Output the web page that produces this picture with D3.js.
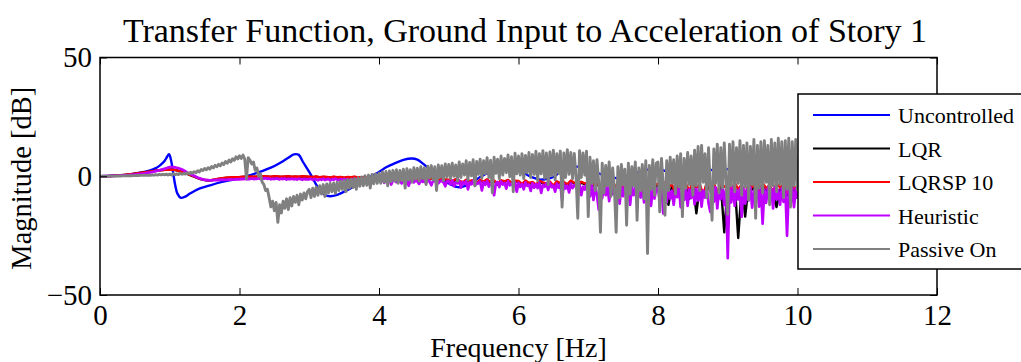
<!DOCTYPE html>
<html><head><meta charset="utf-8">
<script src="https://cdn.jsdelivr.net/npm/d3@7"></script>
<style>
html,body{margin:0;padding:0;background:#fff;}
svg{display:block;font-family:"Liberation Serif","Times New Roman",serif;}
</style></head><body>
<svg id="chart" width="1021" height="362"></svg>
<script>
const titleText = "Transfer Function, Ground Input to Acceleration of Story 1";
const xLabel = "Frequency [Hz]";
const yLabel = "Magnitude [dB]";
const xTicks = [0, 2, 4, 6, 8, 10, 12];
const yTicks = [-50, 0, 50];
const seriesNames = ["Uncontrolled", "LQR", "LQRSP 10", "Heuristic", "Passive On"];
const seriesColors = ["#0000ff", "#000000", "#ff0000", "#bf00ff", "#808080"];
const freqMax = 10; // uniformly sampled series run from 0 to 10 Hz

// Uncontrolled: smooth resonant response (freq, dB)
const uncontrolledFreq = [0,0.2,0.4,0.5,0.6,0.72,0.8,0.86,0.92,0.96,0.99,1.02,1.05,1.08,1.11,1.16,1.22,1.29,1.4,1.58,1.75,1.91,2.1,2.29,2.45,2.58,2.7,2.78,2.85,2.91,3.01,3.08,3.15,3.22,3.3,3.4,3.5,3.63,3.75,3.87,4.0,4.11,4.23,4.35,4.47,4.55,4.63,4.73,4.83,4.93,5.02,5.13,5.26,5.37,5.45,5.6,5.75,5.9,6.0,6.09,6.2,6.31,6.42,6.5,6.64,6.8,6.95,7.1,7.25,7.41,7.6,7.8,8.0,8.2,8.4,8.6,8.8,9.0,9.2,9.4,9.6,9.8,10.0];
const uncontrolledDb = [0,0.2,0.6,1.1,1.6,2.5,3.4,4.6,6.2,8.1,9.3,6.5,1.1,-4.0,-7.3,-9.1,-8.6,-7.3,-5.5,-3.8,-2.4,-1.4,0.0,1.8,3.6,5.6,7.8,9.2,9.0,6.0,1.3,-2.5,-5.9,-7.8,-8.4,-7.8,-6.5,-4.5,-2.4,-0.3,1.8,3.9,5.5,6.9,7.5,7.0,5.3,2.9,0.4,-1.8,-3.3,-4.6,-3.8,-2.0,-0.3,1.8,3.0,2.8,2.2,1.1,-0.5,-1.4,-1.0,-0.3,2.5,4.0,3.5,1.8,0.2,-0.8,0.5,2.5,3.0,1.5,2.0,3.5,2.5,3.0,4.0,3.0,4.5,3.5,4.0];

// LQR, 0..10 Hz every 0.05 Hz
const lqrDb = [
0,0.02,0.06,0.12,0.2,0.3,0.42,0.56,0.72,0.9, 1.1,1.3,1.5,1.7,1.9,2.1,2.3,2.5,2.65,2.8,
2.9,2.8,2.5,2.0,1.5,1.0,0.4,-0.2,-0.8,-1.3, -1.6,-1.8,-1.7,-1.4,-1.1,-0.9,-0.7,-0.6,-0.5,-0.45,
-0.4,-0.3,-0.4,-0.2,-0.3,-0.2,-0.3,-0.1,-0.2,-0.3, -0.1,-0.2,-0.3,-0.2,-0.1,-0.3,-0.2,-0.3,-0.1,-0.2,
-0.3,-0.4,-0.2,-0.5,-0.3,-0.4,-0.6,-0.3,-0.5,-0.4, -0.7,-0.4,-0.5,-0.3,-0.6,-0.5,-0.4,-0.7,-0.5,-0.6,
-0.6,-0.9,-0.5,-1.0,-0.7,-1.2,-0.6,-1.3,-0.8,-1.0, -0.7,-1.5,-0.9,-1.1,-1.6,-1.0,-1.2,-1.7,-1.1,-1.5,
-1.7,-2.5,-1.4,-2.0,-3.0,-1.6,-2.3,-1.8,-3.2,-1.7, -2.5,-1.5,-2.8,-2.0,-3.5,-1.9,-2.4,-1.7,-3.0,-2.1,
-2.3,-3.6,-2.0,-3.2,-2.7,-4.2,-2.1,-3.0,-3.5,-2.5, -4.6,-2.4,-3.3,-2.7,-3.9,-2.1,-3.1,-4.4,-2.6,-3.4,
-3.2,-4.8,-2.8,-4.0,-5.5,-3.3,-3.9,-2.9,-5.2,-3.4, -6.0,-3.1,-4.3,-3.6,-5.3,-3.0,-4.0,-5.8,-3.5,-4.6,
-3.5,-7.5,-3.0,-12.0,-4.0,-8.0,-3.2,-6.0,-3.7,-9.5, -2.9,-15.6,-4.1,-8.5,-3.1,-6.2,-3.4,-10.0,-3.2,-23.6,
-3.6,-7.0,-3.0,-26.0,-4.0,-17.0,-3.3,-5.6,-3.7,-8.2, -3.1,-6.0,-4.3,-7.5,-13.0,-5.8,-3.9,-8.0,-3.4,-6.4, -4.5];

// LQRSP 10, 0..10 Hz every 0.05 Hz
const lqrsp10Db = [
0,0.02,0.06,0.12,0.2,0.3,0.42,0.56,0.72,0.9, 1.1,1.3,1.5,1.7,1.9,2.1,2.3,2.5,2.65,2.75,
2.8,2.75,2.5,2.1,1.6,1.1,0.5,-0.1,-0.7,-1.2, -1.5,-1.7,-1.6,-1.3,-1.0,-0.8,-0.6,-0.5,-0.4,-0.35,
-0.3,-0.2,-0.3,-0.1,-0.2,-0.1,-0.2,0.0,-0.1,-0.2, 0.0,-0.1,-0.2,-0.1,0.0,-0.2,-0.1,-0.2,0.0,-0.1,
-0.2,-0.3,-0.1,-0.4,-0.2,-0.3,-0.5,-0.2,-0.4,-0.3, -0.6,-0.3,-0.4,-0.2,-0.5,-0.4,-0.3,-0.6,-0.4,-0.5,
-0.5,-0.8,-0.4,-0.9,-0.6,-1.0,-0.5,-1.2,-0.7,-0.9, -0.6,-1.3,-0.8,-1.0,-1.4,-0.9,-1.1,-1.5,-1.0,-1.3,
-1.5,-2.2,-1.2,-1.8,-2.6,-1.4,-2.0,-1.6,-2.8,-1.5, -2.2,-1.3,-2.5,-1.8,-3.0,-1.7,-2.1,-1.5,-2.7,-1.9,
-2.0,-3.2,-1.8,-2.8,-2.4,-3.6,-1.9,-2.6,-3.0,-2.2, -4.0,-2.1,-2.9,-2.4,-3.4,-1.8,-2.7,-3.8,-2.3,-3.0,
-2.8,-4.2,-2.5,-3.6,-4.8,-2.9,-3.4,-2.6,-4.5,-3.0, -5.2,-2.8,-3.8,-3.2,-4.6,-2.7,-3.5,-5.0,-3.1,-4.0,
-3.0,-6.5,-2.6,-4.5,-3.5,-7.0,-2.8,-5.0,-3.2,-6.0, -2.5,-4.8,-3.6,-7.5,-2.7,-5.2,-3.0,-6.8,-2.8,-4.4,
-3.2,-6.0,-2.6,-5.5,-3.5,-8.0,-2.9,-4.6,-3.3,-7.2, -2.7,-5.0,-3.8,-6.5,-2.8,-4.8,-3.4,-7.0,-3.0,-5.4, -4.0];

// Heuristic, 0..10 Hz every 0.025 Hz
const heuristicDb = [
0,0.01,0.02,0.04,0.06,0.08,0.1,0.13,0.16,0.19, 0.22,0.26,0.3,0.34,0.38,0.43,0.48,0.53,0.59,0.65,
0.72,0.8,0.88,0.97,1.06,1.16,1.27,1.39,1.52,1.66, 1.81,1.97,2.14,2.32,2.5,2.7,2.9,3.15,3.4,3.65,
3.85,3.9,3.85,3.75,3.6,3.4,3.15,2.85,2.5,2.1, 1.6,1.25,0.9,0.55,0.2,-0.15,-0.5,-0.8,-1.1,-1.3,
-1.5,-1.6,-1.65,-1.7,-1.7,-1.6,-1.65,-1.5,-1.6,-1.45, -1.55,-1.4,-1.5,-1.35,-1.45,-1.3,-1.4,-1.25,-1.35,-1.2,
-1.3,-1.1,-1.2,-1.0,-1.3,-1.1,-1.2,-0.9,-1.2,-1.0, -1.1,-0.8,-1.2,-0.9,-1.0,-0.8,-1.1,-0.9,-1.3,-1.0,
-1.2,-0.9,-1.1,-1.3,-1.0,-1.2,-0.9,-1.4,-1.1,-1.2, -1.0,-1.3,-1.1,-1.4,-1.0,-1.2,-1.5,-1.1,-1.3,-1.2,
-1.3,-1.0,-1.5,-1.1,-1.4,-1.7,-1.2,-1.5,-1.0,-1.6, -1.3,-1.1,-1.8,-1.2,-1.5,-1.0,-1.4,-1.7,-1.2,-1.5,
-1.1,-1.6,-1.3,-2.0,-1.2,-1.5,-1.0,-1.7,-1.3,-1.5, -1.2,-1.9,-1.4,-1.1,-1.6,-1.3,-2.2,-1.4,-1.2,-1.7,
-1.5,-2.2,-1.3,-2.8,-1.6,-2.0,-1.2,-3.5,-1.8,-1.5, -2.5,-1.4,-2.0,-3.0,-1.6,-2.2,-1.3,-4.0,-1.9,-1.5,
-2.6,-1.7,-2.2,-3.2,-1.6,-2.4,-1.8,-2.9,-1.5,-2.3, -3.8,-1.9,-2.1,-1.6,-3.0,-2.2,-1.8,-2.6,-4.2,-2.0,
-2.0,-3.5,-1.8,-4.2,-2.5,-3.0,-1.9,-4.8,-2.4,-3.2, -2.0,-5.5,-2.6,-3.4,-1.8,-4.0,-2.8,-3.0,-2.2,-6.0,
-2.5,-3.6,-2.0,-4.4,-3.0,-2.3,-8.0,-3.1,-2.4,-4.6, -2.2,-3.5,-2.8,-5.2,-2.1,-3.8,-3.0,-4.2,-2.5,-6.5,
-2.8,-4.5,-3.2,-5.5,-2.6,-4.0,-3.5,-6.2,-2.9,-4.8, -3.3,-5.0,-2.7,-7.0,-3.6,-4.4,-3.0,-5.8,-2.8,-4.6,
-3.9,-6.5,-3.1,-4.8,-3.4,-10.0,-3.2,-5.2,-4.0,-6.8, -3.0,-5.0,-3.8,-4.2,-6.0,-3.5,-8.0,-4.4,-5.6,-3.6,
-4.0,-8.5,-3.6,-10.0,-4.4,-7.8,-14.0,-4.2,-9.2,-3.8, -8.0,-4.5,-10.5,-3.9,-7.6,-4.8,-9.8,-4.1,-11.5,-4.6,
-8.4,-3.7,-9.5,-4.9,-12.0,-4.3,-8.0,-5.0,-10.2,-4.4, -9.0,-4.6,-11.0,-5.2,-8.6,-4.5,-12.5,-5.0,-9.4,-5.3,
-5.0,-10.5,-4.6,-15.6,-5.5,-11.0,-4.8,-9.5,-6.0,-12.0, -5.2,-8.8,-4.5,-13.0,-5.8,-10.0,-4.9,-12.5,-5.5,-9.2,
-4.6,-11.8,-5.3,-10.2,-4.4,-12.8,-6.0,-9.0,-5.0,-11.5, -15.0,-5.4,-10.8,-4.7,-13.5,-5.6,-9.6,-4.8,-12.2,-5.2,
-34.5,-5.0,-11.0,-4.6,-12.5,-5.8,-9.8,-5.2,-17.0,-4.9, -11.5,-5.5,-10.2,-4.7,-13.2,-6.0,-9.5,-5.1,-12.8,-4.8,
-20.0,-5.6,-11.2,-4.9,-10.0,-5.3,-13.5,-4.6,-9.8,-5.7, -12.0,-5.0,-10.8,-4.8,-25.0,-5.5,-11.6,-4.9,-13.0,-5.2, -9.5];

// Passive On, 0..10 Hz every 0.025 Hz
const passiveOnDb = [
0,0,0.01,0.02,0.03,0.04,0.05,0.06,0.07,0.08, 0.09,0.1,0.12,0.14,0.16,0.18,0.2,0.22,0.24,0.26,
0.28,0.3,0.32,0.35,0.38,0.4,0.45,0.35,0.5,0.4, 0.6,0.45,0.7,0.5,0.75,0.55,0.8,0.6,0.9,0.5,
0.9,0.5,1.1,0.6,1.0,0.7,1.3,0.8,1.2,0.9, 1.5,1.0,1.7,1.3,1.9,1.5,2.3,1.8,2.8,2.4,
3.3,2.7,3.6,3.0,4.1,3.5,4.6,4.0,5.0,4.4, 5.6,4.9,6.2,5.5,6.8,6.0,7.4,6.7,8.2,7.3,
8.6,7.5,8.9,7.2,-1.0,7.8,6.8,5.2,6.0,2.5, 3.5,0.0,1.0,-2.5,-3.5,-6.0,-5.5,-9.0,-12.9,-10.5,
-14.5,-11.0,-19.4,-12.0,-15.5,-10.5,-13.5,-9.5,-14.0,-9.0, -12.5,-8.5,-11.0,-8.0,-12.0,-7.5,-10.0,-7.0,-9.5,-6.5,
-5.5,-9.0,-5.0,-8.5,-4.5,-8.0,-4.0,-7.5,-3.5,-8.5, -3.2,-7.0,-3.0,-6.5,-2.8,-7.2,-2.5,-6.0,-2.2,-5.5,
-1.8,-6.5,-1.5,-5.0,-1.2,-4.8,-1.0,-5.5,-0.6,-4.2, -0.3,-4.0,0.2,-3.8,0.5,-5.0,0.8,-3.2,1.0,-3.0,
1.3,-3.0,1.8,-2.5,2.0,-4.0,2.2,-2.2,2.5,-2.0, 2.8,-3.0,2.4,-1.8,3.0,-5.0,3.2,-1.5,2.8,-2.5,
3.6,-1.2,3.4,-2.0,4.0,-1.0,3.6,-3.5,4.2,-0.8, 4.5,-1.5,4.0,-6.0,4.8,-0.5,4.4,-1.8,5.2,-0.2,
5.0,-1.0,5.5,0.0,4.8,-2.0,6.0,-0.5,5.2,0.5, 6.5,-1.5,5.8,0.2,7.0,-4.0,6.2,0.8,7.2,-0.8,
6.5,1.0,7.8,-0.5,6.8,-7.0,8.0,1.2,7.2,-1.0, 8.5,0.5,7.5,1.5,9.0,-0.2,8.2,-6.5,9.7,1.0,
8.5,0.5,9.5,-1.0,8.8,1.5,10.0,-0.5,9.2,0.8, 10.5,-2.0,9.5,1.0,10.8,-0.8,9.8,-3.5,10.2,0.2,
11.0,-1.5,9.5,1.2,10.6,-13.0,9.8,-0.5,11.2,0.8, 10.0,-1.0,9.6,-0.2,-17.7,10.8,-0.5,9.8,0.5,10.5,
-17.0,8.0,-3.0,6.5,-6.0,7.0,-2.5,-23.6,5.5,-7.0, 4.5,-4.0,6.0,-8.5,3.5,-5.0,-23.6,4.0,-9.0,5.0,
-3.5,3.0,-20.6,5.5,-7.5,4.0,-4.0,6.0,-18.5,3.5, -6.0,5.0,-9.5,6.5,-32.5,4.5,-5.5,7.0,-8.0,5.5,
6.0,-15.0,7.5,-4.0,-16.4,6.5,-6.0,8.0,-3.0,7.0, -7.5,8.5,-4.5,9.5,-17.0,7.5,-5.0,10.0,-3.5,8.5,
-8.0,11.0,-4.0,12.5,-6.0,13.0,-2.5,9.5,-9.0,12.0, -4.5,-18.5,11.5,-3.0,13.5,-7.0,12.0,-5.0,14.0,-2.0,
-16.0,13.5,-4.0,14.5,-6.5,12.0,-3.0,15.0,-8.0,13.0, -4.5,14.0,-10.0,12.5,-3.5,15.5,-17.7,13.0,-5.0,14.5,
-7.0,15.0,-2.5,13.0,-12.0,15.5,-4.0,14.0,-6.5,16.0, -3.5,14.5,-9.0,15.0,-5.5,16.0,-13.0,14.5,-4.0,15.5, -6.0];

// ---------- drawing ----------
const svg = d3.select("#chart");
const plot = {left: 100, right: 937, top: 57.5, bottom: 295};
const x = d3.scaleLinear().domain([0, 12]).range([plot.left, plot.right]);
const y = d3.scaleLinear().domain([-50, 50]).range([plot.bottom, plot.top]);

svg.append("rect").attr("width", 1021).attr("height", 362).attr("fill", "#fff");

svg.append("defs").append("clipPath").attr("id", "clip")
  .append("rect").attr("x", plot.left).attr("y", plot.top)
  .attr("width", plot.right - plot.left).attr("height", plot.bottom - plot.top);

const uniform = arr => arr.map((v, i) => [i * freqMax / (arr.length - 1), v]);
const seriesData = [
  uncontrolledFreq.map((f, i) => [f, uncontrolledDb[i]]),
  uniform(lqrDb),
  uniform(lqrsp10Db),
  uniform(heuristicDb),
  uniform(passiveOnDb)
];
const seriesWidths = [2.4, 2.4, 2.4, 2.7, 2.9];

const lineSmooth = d3.line().x(d => x(d[0])).y(d => y(d[1])).curve(d3.curveCatmullRom.alpha(0.5));
const lineRaw = d3.line().x(d => x(d[0])).y(d => y(d[1]));

const gLines = svg.append("g").attr("clip-path", "url(#clip)");
seriesData.forEach((d, i) => {
  gLines.append("path")
    .attr("d", i === 0 ? lineSmooth(d) : lineRaw(d))
    .attr("fill", "none")
    .attr("stroke", seriesColors[i])
    .attr("stroke-width", seriesWidths[i])
    .attr("stroke-linejoin", "round");
});

const fmt = d => d < 0 ? "\u2212" + Math.abs(d) : String(d);
const tickFont = 29;

const axB = svg.append("g").attr("transform", `translate(0,${plot.bottom})`)
  .call(d3.axisBottom(x).tickValues(xTicks).tickSize(-7).tickPadding(9).tickFormat(fmt));
const axT = svg.append("g").attr("transform", `translate(0,${plot.top})`)
  .call(d3.axisTop(x).tickValues(xTicks).tickSize(-7).tickFormat(""));
const axL = svg.append("g").attr("transform", `translate(${plot.left},0)`)
  .call(d3.axisLeft(y).tickValues(yTicks).tickSize(-7).tickPadding(8).tickFormat(fmt));
const axR = svg.append("g").attr("transform", `translate(${plot.right},0)`)
  .call(d3.axisRight(y).tickValues(yTicks).tickSize(-7).tickFormat(""));
[axB, axT, axL, axR].forEach(g => {
  g.select(".domain").remove();
  g.selectAll(".tick line").attr("stroke", "#000").attr("stroke-width", 1);
  g.selectAll("text").attr("font-size", tickFont)
    .attr("font-family", "Liberation Serif, Times New Roman, serif").attr("fill", "#000");
});

svg.append("rect")
  .attr("x", plot.left).attr("y", plot.top)
  .attr("width", plot.right - plot.left).attr("height", plot.bottom - plot.top)
  .attr("fill", "none").attr("stroke", "#000").attr("stroke-width", 1.5);

svg.append("text").attr("x", 525).attr("y", 42)
  .attr("text-anchor", "middle").attr("font-size", 34).text(titleText);
svg.append("text").attr("x", (plot.left + plot.right) / 2).attr("y", 357)
  .attr("text-anchor", "middle").attr("font-size", 28).text(xLabel);
svg.append("text").attr("transform", `translate(31,${(plot.top + plot.bottom) / 2 + 2}) rotate(-90)`)
  .attr("text-anchor", "middle").attr("font-size", 28.5).text(yLabel);

// legend
const lg = svg.append("g");
lg.append("rect").attr("x", 798).attr("y", 94).attr("width", 240).attr("height", 175)
  .attr("fill", "#fff").attr("stroke", "#000").attr("stroke-width", 1.5);
const legendY = d3.scalePoint().domain(seriesNames).range([115, 249]);
seriesNames.forEach((name, i) => {
  const yy = legendY(name);
  lg.append("line").attr("x1", 813).attr("x2", 890).attr("y1", yy).attr("y2", yy)
    .attr("stroke", seriesColors[i]).attr("stroke-width", 2.2);
  lg.append("text").attr("x", 898).attr("y", yy + 8).attr("font-size", 22).text(name);
});
</script>
</body></html>
